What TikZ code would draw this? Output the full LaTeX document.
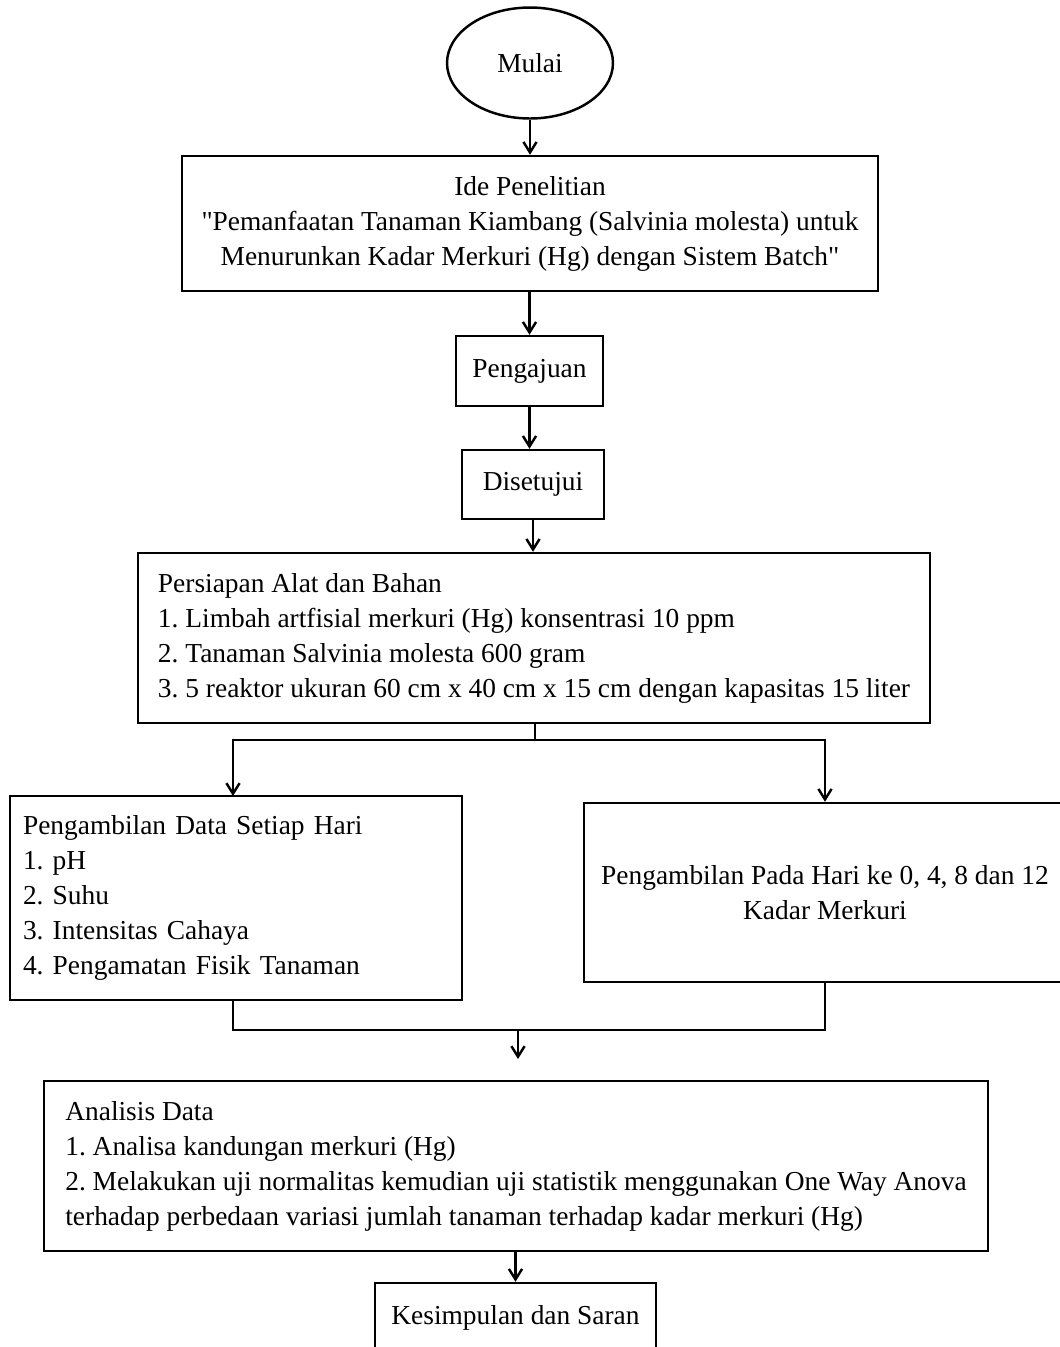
\documentclass[tikz,border=0pt]{standalone}
\usepackage{fontspec}
\setmainfont{Liberation Serif}[Ligatures=TeXOff]
\usetikzlibrary{arrows.meta,shapes.geometric}
\frenchspacing

\begin{document}
\begin{tikzpicture}[
  x=0.02cm, y=-0.02cm,
  every node/.style={font=\fontsize{15.6}{19.9}\selectfont},
  box/.style={draw, line width=1.4pt, inner sep=0pt, align=center},
  listbox/.style={box, align=left},
  flow/.style={line width=1.4pt, -{Straight Barb[length=6pt,width=7.5pt]}},
  link/.style={line width=1.4pt}
]
\useasboundingbox (0,0) rectangle (1060,1347);
\clip (0,0) rectangle (1060,1347);

\node[draw, ellipse, line width=1.4pt, minimum width=3.32cm, minimum height=2.22cm] (mulai) at (530,63) {Mulai};
\node[box, minimum width=13.92cm, minimum height=2.7cm] (ide) at (530,223.5)
  {Ide Penelitian\\
   "Pemanfaatan Tanaman Kiambang (Salvinia molesta) untuk\\
   Menurunkan Kadar Merkuri (Hg) dengan Sistem Batch"};
\node[box, minimum width=2.94cm, minimum height=1.4cm] (pengajuan) at (529.5,371) {Pengajuan};
\node[box, minimum width=2.84cm, minimum height=1.38cm] (disetujui) at (533,484.5) {Disetujui};
\node[listbox, minimum width=15.84cm, minimum height=3.4cm] (persiapan) at (534,638)
  {Persiapan Alat dan Bahan\\
   1. Limbah artfisial merkuri (Hg) konsentrasi 10 ppm\\
   2. Tanaman Salvinia molesta 600 gram\\
   3. 5 reaktor ukuran 60 cm x 40 cm x 15 cm dengan kapasitas 15 liter};
\node[listbox, inner xsep=0.26cm, text width=8.52cm, minimum height=4.08cm] (data) at (236,898)
  {Pengambilan Data Setiap Hari\\
   1. pH\\
   2. Suhu\\
   3. Intensitas Cahaya\\
   4. Pengamatan Fisik Tanaman};
\node[box, minimum width=9.64cm, minimum height=3.58cm] (hari) at (825,892.5)
  {Pengambilan Pada Hari ke 0, 4, 8 dan 12\\
   Kadar Merkuri};
\node[listbox, minimum width=18.88cm, minimum height=3.4cm] (analisis) at (516,1166)
  {Analisis Data\\
   1. Analisa kandungan merkuri (Hg)\\
   2. Melakukan uji normalitas kemudian uji statistik menggunakan One Way Anova\\
   terhadap perbedaan variasi jumlah tanaman terhadap kadar merkuri (Hg)};
\node[box, minimum width=5.62cm, minimum height=1.4cm] (kesimpulan) at (515.5,1318) {Kesimpulan dan Saran};

% alur utama
\draw[flow] (mulai) -- (ide);
\draw[flow] (ide.south -| pengajuan) -- (pengajuan.north);
\draw[flow] (pengajuan) -- (pengajuan |- disetujui.north);
\draw[flow] (disetujui) -- (disetujui |- persiapan.north);

% percabangan
\coordinate (split) at (535,740);
\draw[link] (persiapan.south -| split) -- (split);
\draw[flow] (split) -| (233,796) coordinate (datatop);
\draw[flow] (split) -| (hari.north);

% penggabungan
\coordinate (merge) at (518,1030);
\coordinate (tip) at (518,1059);
\draw[link] (datatop |- data.south) |- (hari.south |- merge) -- (hari.south);
\draw[flow] (merge) -- (tip);
\draw[flow] (kesimpulan.north |- analisis.south) -- (kesimpulan.north);
\end{tikzpicture}
\end{document}
